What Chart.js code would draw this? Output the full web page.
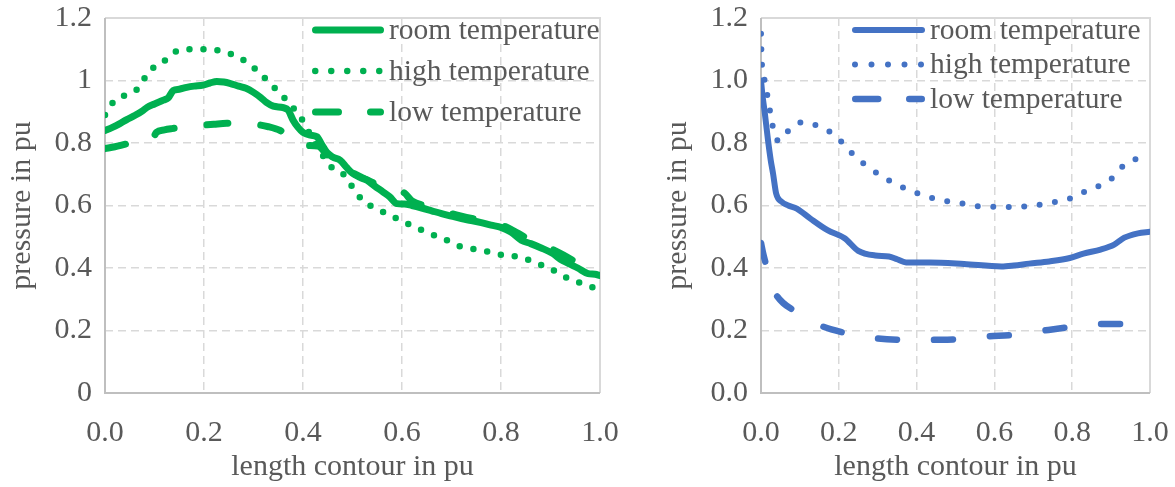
<!DOCTYPE html>
<html>
<head>
<meta charset="utf-8">
<script src="https://cdn.jsdelivr.net/npm/chart.js@4.4.1/dist/chart.umd.min.js"></script>
<style>
  html, body { margin: 0; padding: 0; background: #ffffff; }
  #wrap { position: relative; width: 1175px; height: 487px; overflow: hidden; }
  canvas { position: absolute; top: 0; }
</style>
</head>
<body>
<div id="wrap">
  <canvas id="left" width="620" height="487" style="left:0px"></canvas>
  <canvas id="right" width="535" height="487" style="left:640px"></canvas>
</div>
<script>
// ---------------- DATA ----------------
const seriesLabels = ['room temperature', 'high temperature', 'low temperature'];
const xTickLabels = ['0.0', '0.2', '0.4', '0.6', '0.8', '1.0'];
const leftYTickLabels = ['0', '0.2', '0.4', '0.6', '0.8', '1', '1.2'];
const rightYTickLabels = ['0.0', '0.2', '0.4', '0.6', '0.8', '1.0', '1.2'];
const xTitle = 'length contour in pu';
const yTitle = 'pressure in pu';

// Left chart (green)
const leftRoomX = [0.000,0.015,0.030,0.044,0.060,0.075,0.085,0.100,0.118,0.128,0.138,0.150,0.165,0.180,0.198,0.212,0.226,0.240,0.252,0.270,0.285,0.300,0.315,0.326,0.340,0.360,0.370,0.380,0.390,0.400,0.415,0.428,0.438,0.448,0.460,0.475,0.488,0.500,0.515,0.530,0.545,0.562,0.575,0.590,0.605,0.620,0.640,0.660,0.680,0.700,0.720,0.740,0.760,0.780,0.800,0.820,0.841,0.860,0.880,0.905,0.920,0.937,0.955,0.976,0.990,1.000];
const leftRoomY = [0.840,0.850,0.862,0.875,0.888,0.902,0.914,0.925,0.937,0.945,0.968,0.972,0.978,0.982,0.985,0.992,0.997,0.995,0.991,0.982,0.975,0.962,0.945,0.930,0.918,0.913,0.905,0.873,0.850,0.834,0.825,0.820,0.795,0.770,0.755,0.745,0.722,0.703,0.690,0.680,0.662,0.643,0.628,0.606,0.605,0.600,0.592,0.583,0.574,0.566,0.558,0.552,0.545,0.537,0.530,0.515,0.489,0.478,0.465,0.446,0.428,0.414,0.400,0.382,0.380,0.376];

const leftHighX = [0.000,0.020,0.047,0.070,0.088,0.114,0.138,0.168,0.200,0.231,0.262,0.288,0.312,0.333,0.354,0.378,0.400,0.420,0.440,0.458,0.480,0.500,0.520,0.548,0.575,0.600,0.630,0.660,0.690,0.716,0.740,0.778,0.808,0.840,0.870,0.900,0.927,0.957,0.988,1.000];
const leftHighY = [0.890,0.937,0.956,0.980,1.029,1.054,1.089,1.100,1.100,1.096,1.080,1.057,1.025,0.992,0.958,0.917,0.870,0.810,0.760,0.722,0.703,0.659,0.617,0.590,0.570,0.550,0.528,0.508,0.489,0.470,0.462,0.451,0.440,0.435,0.416,0.398,0.373,0.354,0.337,0.335];

const leftLowX = [0.000,0.020,0.047,0.070,0.095,0.104,0.120,0.135,0.160,0.192,0.220,0.246,0.275,0.303,0.330,0.354,0.380,0.400,0.430,0.450,0.475,0.500,0.530,0.560,0.590,0.605,0.620,0.650,0.690,0.720,0.760,0.800,0.830,0.870,0.910,0.950,0.980,1.000];
const leftLowY = [0.782,0.788,0.798,0.803,0.810,0.834,0.842,0.846,0.851,0.856,0.860,0.863,0.862,0.860,0.852,0.840,0.815,0.793,0.790,0.760,0.735,0.705,0.682,0.660,0.648,0.640,0.615,0.598,0.578,0.566,0.552,0.538,0.515,0.480,0.455,0.420,0.390,0.378];

// Right chart (blue)
const rightRoomX = [0.000,0.004,0.009,0.018,0.025,0.031,0.039,0.053,0.070,0.092,0.127,0.171,0.215,0.250,0.294,0.329,0.350,0.373,0.434,0.522,0.618,0.650,0.689,0.741,0.794,0.829,0.873,0.908,0.934,0.969,1.000];
const rightRoomY = [1.000,0.950,0.904,0.809,0.745,0.702,0.638,0.612,0.600,0.590,0.558,0.521,0.495,0.455,0.440,0.437,0.428,0.418,0.418,0.413,0.405,0.408,0.414,0.421,0.432,0.446,0.459,0.475,0.497,0.511,0.516];

const rightHighX = [0.000,0.001,0.003,0.011,0.018,0.025,0.033,0.046,0.060,0.075,0.108,0.147,0.184,0.215,0.243,0.276,0.310,0.346,0.384,0.424,0.463,0.506,0.548,0.589,0.630,0.671,0.713,0.754,0.795,0.833,0.871,0.906,0.934,0.972];
const rightHighY = [1.150,1.094,1.041,0.993,0.939,0.890,0.838,0.805,0.825,0.844,0.867,0.854,0.830,0.793,0.755,0.723,0.694,0.669,0.648,0.630,0.617,0.609,0.599,0.596,0.595,0.596,0.602,0.611,0.623,0.645,0.664,0.691,0.730,0.753];

const rightLowX = [0.000,0.005,0.013,0.025,0.039,0.057,0.088,0.120,0.158,0.219,0.260,0.294,0.360,0.400,0.439,0.504,0.583,0.649,0.728,0.794,0.868,0.934];
const rightLowY = [0.480,0.450,0.410,0.350,0.314,0.288,0.261,0.235,0.213,0.191,0.180,0.175,0.170,0.169,0.170,0.172,0.181,0.186,0.200,0.211,0.221,0.221];

// ---------------- HELPERS ----------------
const FONT = '"Liberation Serif", "Times New Roman", serif';
const TEXT = '#595959';
const pts = (xs, ys) => xs.map((x, i) => ({ x: x, y: ys[i] }));

const insideLegend = {
  id: 'insideLegend',
  afterDatasetsDraw(chart, args, o) {
    const ctx = chart.ctx;
    ctx.save();
    ctx.font = o.fontSize + 'px ' + FONT;
    chart.data.datasets.forEach((ds, i) => {
      const y = o.y0 + i * o.dy;
      ctx.beginPath();
      ctx.lineWidth = ds.borderWidth;
      ctx.strokeStyle = ds.borderColor;
      ctx.lineCap = 'round';
      ctx.setLineDash(o.dashes[i]);
      ctx.moveTo(o.x1 + ds.borderWidth / 2, y);
      ctx.lineTo(o.x2 - ds.borderWidth / 2, y);
      ctx.stroke();
      ctx.setLineDash([]);
      ctx.fillStyle = TEXT;
      ctx.textBaseline = 'middle';
      ctx.textAlign = 'left';
      ctx.fillText(ds.label, o.tx, y + 1);
    });
    ctx.restore();
  }
};

const plotFrame = {
  id: 'plotFrame',
  beforeDatasetsDraw(chart) {
    const { ctx, chartArea: a } = chart;
    ctx.save();
    ctx.lineWidth = 2;
    ctx.setLineDash([]);
    ctx.strokeStyle = '#d9d9d9';
    ctx.beginPath();
    ctx.moveTo(a.left, a.top); ctx.lineTo(a.right, a.top); ctx.lineTo(a.right, a.bottom);
    ctx.stroke();
    ctx.strokeStyle = '#bfbfbf';
    ctx.beginPath();
    ctx.moveTo(a.left, a.top); ctx.lineTo(a.left, a.bottom); ctx.lineTo(a.right, a.bottom);
    ctx.stroke();
    ctx.restore();
  }
};

function makeChart(id, color, data, cfg) {
  const styles = [
    { borderWidth: cfg.w[0], borderDash: [] },
    { borderWidth: cfg.w[1], borderDash: cfg.dot },
    { borderWidth: cfg.w[2], borderDash: cfg.dash }
  ];
  return new Chart(document.getElementById(id), {
    type: 'line',
    data: {
      datasets: data.map((d, i) => ({
        label: seriesLabels[i],
        data: d,
        borderColor: color,
        backgroundColor: color,
        borderWidth: styles[i].borderWidth,
        borderDash: styles[i].borderDash,
        borderCapStyle: 'round',
        borderJoinStyle: 'round',
        pointRadius: 0,
        cubicInterpolationMode: 'monotone',
        fill: false
      }))
    },
    options: {
      responsive: false,
      animation: false,
      events: [],
      layout: { padding: { left: 0, right: cfg.padRight, top: 18, bottom: 0 } },
      plugins: {
        legend: { display: false },
        tooltip: { enabled: false },
        insideLegend: cfg.legend
      },
      scales: {
        x: {
          type: 'linear', min: 0, max: 1,
          afterFit: s => { s.height = 94; s.paddingLeft = 0; s.paddingRight = 0; },
          afterBuildTicks: s => { s.ticks = xTickLabels.map(t => ({ value: parseFloat(t) })); },
          ticks: {
            callback: (v, i) => xTickLabels[i],
            font: { family: FONT, size: 30 }, color: TEXT, padding: 22, maxRotation: 0
          },
          grid: { color: '#d9d9d9', lineWidth: 1.5, drawTicks: false },
          border: { display: false, dash: [8, 5] },
          title: {
            display: true, text: xTitle, color: TEXT,
            font: { family: FONT, size: 30, lineHeight: 1 },
            padding: { top: 0, bottom: 5 }
          }
        },
        y: {
          type: 'linear', min: 0, max: 1.2,
          afterFit: s => { s.width = cfg.yWidth; s.paddingTop = 0; s.paddingBottom = 0; },
          afterBuildTicks: s => { s.ticks = cfg.yLabels.map((t, i) => ({ value: i * 0.2 })); },
          ticks: {
            callback: (v, i) => cfg.yLabels[i],
            font: { family: FONT, size: 30 }, color: TEXT, padding: 13
          },
          grid: { color: '#d9d9d9', lineWidth: 1.5, drawTicks: false },
          border: { display: false, dash: [8, 5] },
          title: {
            display: true, text: yTitle, color: TEXT,
            font: { family: FONT, size: 30, lineHeight: 1 },
            padding: { top: cfg.yTitlePad, bottom: 0 }
          }
        }
      }
    },
    plugins: [plotFrame, insideLegend]
  });
}

makeChart('left', '#00b050',
  [pts(leftRoomX, leftRoomY), pts(leftHighX, leftHighY), pts(leftLowX, leftLowY)],
  {
    w: [7, 6.5, 7], dot: [0, 14], dash: [21, 33],
    padRight: 20, yWidth: 105, yTitlePad: 7, yLabels: leftYTickLabels,
    legend: { x1: 312, x2: 384, tx: 389, y0: 30, dy: 41, fontSize: 29.5, dashes: [[], [0, 16], [23, 32]] }
  });

makeChart('right', '#4472c4',
  [pts(rightRoomX, rightRoomY), pts(rightHighX, rightHighY), pts(rightLowX, rightLowY)],
  {
    w: [6, 6, 6.5], dot: [0, 15.5], dash: [19, 37],
    padRight: 25, yWidth: 121, yTitlePad: 23, yLabels: rightYTickLabels,
    legend: { x1: 212, x2: 285, tx: 290, y0: 30, dy: 34.5, fontSize: 29.5, dashes: [[], [0, 16.5], [23, 31]] }
  });
</script>
</body>
</html>
